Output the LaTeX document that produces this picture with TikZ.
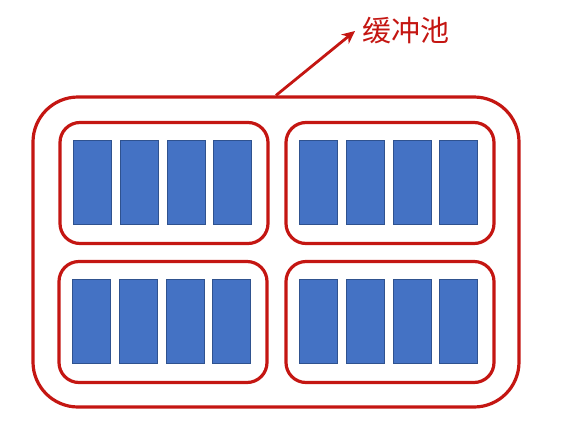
\documentclass[tikz,border=0pt]{standalone}
\usepackage{fontspec}
\newfontfamily\cjk{Noto Sans CJK SC}
\usetikzlibrary{arrows.meta}

\begin{document}
\begin{tikzpicture}[x=1pt, y=-1pt,
    poolbox/.style={draw=poolred, line width=3.2pt, rounded corners=45pt,
        minimum width=486pt, minimum height=310pt},
    framebox/.style={draw=poolred, line width=3.2pt, rounded corners=20pt,
        minimum width=208pt, minimum height=121pt},
    pagebox/.style={draw=pageedge, fill=pageblue, line width=0.6pt,
        minimum width=38pt, minimum height=84pt, inner sep=0pt}]
    % Define colors
    \definecolor{poolred}{RGB}{196,22,18}
    \definecolor{pageblue}{RGB}{68,114,196}
    \definecolor{pageedge}{RGB}{47,82,143}

    % Page size
    \useasboundingbox (0,0) rectangle (562,421);

    % Buffer pool
    \node[poolbox] (pool) at (276,252) {};

    % Four frames with four pages each
    \node[framebox] (frame1) at (164,183) {};
    \node[framebox] (frame2) at (390,183) {};
    \node[framebox] (frame3) at (163,322) {};
    \node[framebox] (frame4) at (390,322) {};

    \foreach \f in {1,2,3,4} {
        \foreach \p [evaluate=\p as \dx using {(\p-2.5)*46.7-1.5}] in {1,2,3,4} {
            \node[pagebox] (page\f-\p) at ([xshift=\dx pt, yshift=1pt]frame\f.center) {};
        }
    }

    % Label
    \node[text=poolred, font=\cjk\fontsize{29}{32}\selectfont, anchor=west] (label) at (359,31) {缓冲池};
    \draw[poolred, line width=2.8pt, -{Stealth[length=13pt, width=12pt]}] (pool.north) -- ([xshift=-4pt]label.west);
\end{tikzpicture}
\end{document}
